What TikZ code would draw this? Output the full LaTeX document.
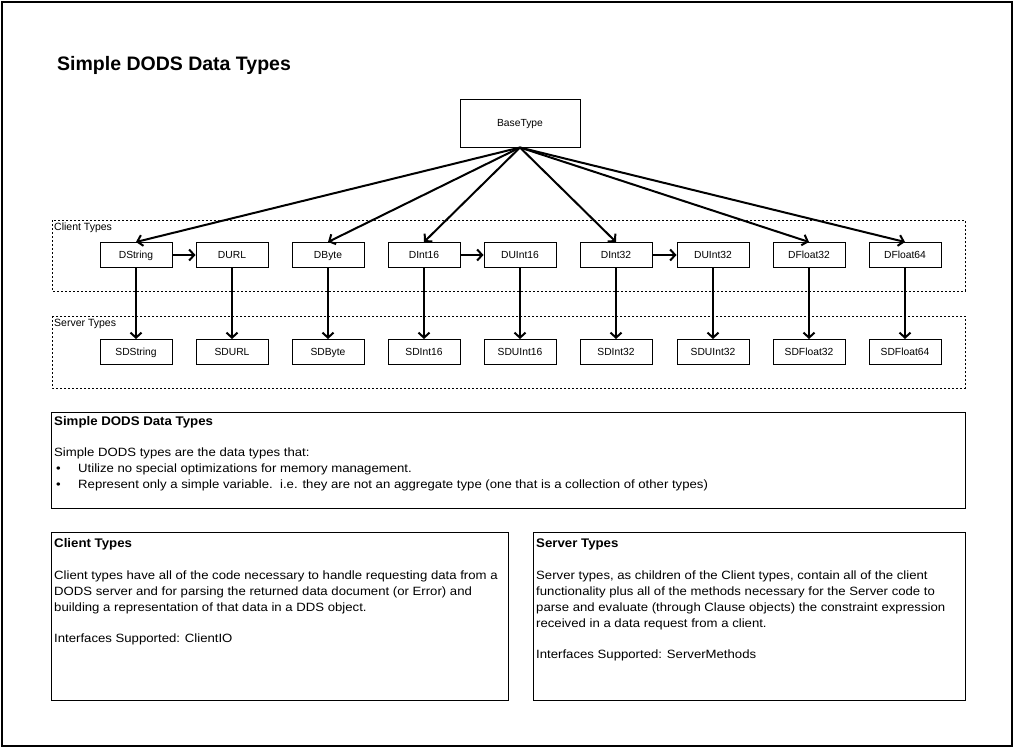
\documentclass[tikz,border=0pt]{standalone}
\usepackage{fontspec}
\setmainfont{Liberation Sans}
\newfontfamily\bodyf[FakeStretch=1.097]{Liberation Sans}
\newfontfamily\headf[FakeStretch=1.06]{Liberation Sans}
\usetikzlibrary{arrows.meta}
\begin{document}
\begin{tikzpicture}[x=1pt,y=-1pt,
 cls/.style={draw,line width=1pt,minimum width=72pt,minimum height=25pt,inner sep=0pt,text height=7.6pt,text depth=0.4pt,font=\fontsize{10.3}{12}\selectfont},
 arr/.style={line width=2pt,-{Straight Barb[length=5pt,width=11pt,line width=2pt]}},
 grp/.style={draw,line width=0.8pt,dash pattern=on 2pt off 2pt},
 panel/.style={draw,line width=1pt},
 txt/.style={anchor=base west,inner sep=0pt,font=\bodyf\fontsize{12}{16}\selectfont},
 hd/.style={anchor=base west,inner sep=0pt,font=\headf\fontsize{12.5}{16}\selectfont\bfseries},
 lbl/.style={anchor=west,inner sep=0pt,font=\fontsize{10.5}{12}\selectfont}]

\useasboundingbox (0,0) rectangle (1015,750);
\draw[line width=2pt] (2,2) rectangle (1012,746);

\node[anchor=base west,inner sep=0pt,font=\fontsize{19.5}{22}\selectfont\bfseries] (title) at (57,70) {Simple DODS Data Types};

% groups
\draw[grp] (52,220) rectangle (965,291);
\node[lbl] (clbl) at (54,228) {Client Types};
\draw[grp] (52,316) rectangle (965,388);
\node[lbl] (slbl) at (54,324) {Server Types};

\node[cls,minimum width=120pt,minimum height=48pt] (bt) at (520,123) {BaseType};

\foreach \n/\t/\x in {ds/DString/136, durl/DURL/232, dbyte/DByte/328, di16/DInt16/424, dui16/DUInt16/520, di32/DInt32/616, dui32/DUInt32/713, df32/DFloat32/809, df64/DFloat64/905}{
  \node[cls] (\n) at (\x,255) {\t};
  \node[cls] (s\n) at (\x,352) {S\t};
  \draw[arr] (\n) -- (s\n);
}

\foreach \n in {ds,dbyte,di16,di32,df32,df64}{
  \draw[arr] (bt.south) -- (\n.north);
}
\draw[arr] (ds) -- (durl);
\draw[arr] (di16) -- (dui16);
\draw[arr] (di32) -- (dui32);

% description panels
\draw[panel] (51,412) rectangle (965,508);
\node[hd] (h1) at (54,425.5) {Simple DODS Data Types};
\node[txt] (t1) at (54,456) {Simple DODS types are the data types that:};
\node[txt] (b1) at (56,472) {\textbullet};
\node[txt] (t2) at (78,472) {Utilize no special optimizations for memory management.};
\node[txt] (b2) at (56,488) {\textbullet};
\node[txt] (t3) at (78,488) {Represent only a simple variable.\ \ i.e. they are not an aggregate type (one that is a collection of other types)};

\draw[panel] (51,532) rectangle (508,700);
\node[hd] (h2) at (54,547.5) {Client Types};
\node[txt] (c1) at (54,579) {Client types have all of the code necessary to handle requesting data from a};
\node[txt] (c2) at (54,595) {DODS server and for parsing the returned data document (or Error) and};
\node[txt] (c3) at (54,611) {building a representation of that data in a DDS object.};
\node[txt] (c4) at (54,642) {Interfaces Supported: ClientIO};

\draw[panel] (533,532) rectangle (965,700);
\node[hd] (h3) at (536,547.5) {Server Types};
\node[txt] (s1) at (536,579) {Server types, as children of the Client types, contain all of the client};
\node[txt] (s2) at (536,595) {functionality plus all of the methods necessary for the Server code to};
\node[txt] (s3) at (536,611) {parse and evaluate (through Clause objects) the constraint expression};
\node[txt] (s4) at (536,627) {received in a data request from a client.};
\node[txt] (s5) at (536,658) {Interfaces Supported: ServerMethods};
\end{tikzpicture}
\end{document}
